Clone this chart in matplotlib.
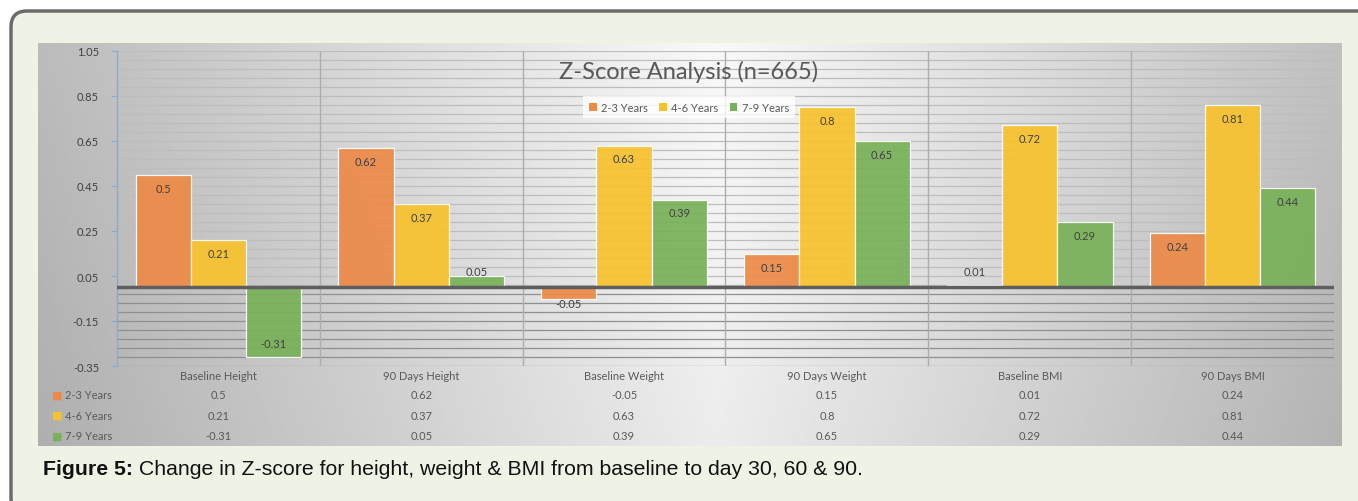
import numpy as np
import matplotlib
matplotlib.use("Agg")
import matplotlib.pyplot as plt
from matplotlib.patches import FancyBboxPatch, Patch
from matplotlib.ticker import FixedLocator
from matplotlib.transforms import blended_transform_factory

categories = ["Baseline Height", "90 Days Height", "Baseline Weight",
              "90 Days Weight", "Baseline BMI", "90 Days BMI"]
series_names = ["2-3 Years", "4-6 Years", "7-9 Years"]
vals_2_3 = [0.5, 0.62, -0.05, 0.15, 0.01, 0.24]
vals_4_6 = [0.21, 0.37, 0.63, 0.8, 0.72, 0.81]
vals_7_9 = [-0.31, 0.05, 0.39, 0.65, 0.29, 0.44]
ytick_vals = [1.05, 0.85, 0.65, 0.45, 0.25, 0.05, -0.15, -0.35]
title = "Z-Score Analysis (n=665)"
caption_bold = "Figure 5:"
caption_rest = " Change in Z-score for height, weight & BMI from baseline to day 30, 60 & 90."

colors = ["#ED8A47", "#F8C22C", "#78B159"]
series = [vals_2_3, vals_4_6, vals_7_9]

W, H = 1358, 502
fig = plt.figure(figsize=(W / 100, H / 100), dpi=100)
fig.patch.set_facecolor("white")

def fx(x):
    return x / W

def fy(y):
    return 1 - y / H

CF = "Lato"

# outer rounded box (pixel coordinates, no transform distortion)
box = FancyBboxPatch((11, H - 515), 1420, 515 - 12,
                     boxstyle="round,pad=0,rounding_size=16",
                     transform=None, facecolor="#EEF3E6",
                     edgecolor="#6B6B6B", linewidth=2.5, zorder=0)
fig.patches.append(box)

# gradient panel
gax = fig.add_axes([fx(38), fy(447), fx(1342) - fx(38), fy(44) - fy(447)], zorder=1)
xx = np.linspace(0, 1, 400)
yy = np.linspace(0, 1, 200)
X, Y = np.meshgrid(xx, yy)
G = 0.975 - 0.24 * np.abs(X - 0.52) / 0.52 - 0.05 * Y
gax.imshow(G, cmap="gray", vmin=0, vmax=1, aspect="auto", extent=[0, 1, 1, 0])
gax.axis("off")

# main axes
ax = fig.add_axes([fx(117), fy(367), fx(1334) - fx(117), fy(52) - fy(367)], zorder=2)
ax.set_facecolor("none")
ax.set_xlim(-0.5, 5.5)
ax.set_ylim(-0.35, 1.05)

x = np.arange(len(categories))
bw = 0.272
offsets = [-bw, 0, bw]

# gridlines
for gy in np.arange(-0.35, 1.0501, 0.04):
    col = "#BDBDBD" if gy > 0 else "#8F8F8F"
    ax.axhline(gy, color=col, lw=0.9, zorder=1)
for k in range(1, 6):
    ax.axvline(k - 0.5, color="#ADADAD", lw=1, zorder=1)

for s, vals, c, off in zip(series_names, series, colors, offsets):
    ax.bar(x + off, vals, width=bw, color=c, alpha=0.92,
           edgecolor=(1, 1, 1, 0.6), linewidth=0.9, zorder=3)
    for xi, v in zip(x, vals):
        if v >= 0:
            ly = max(v - 0.06, 0.07)
        else:
            ly = min(v + 0.058, -0.07)
        ax.text(xi + off, ly, f"{v:g}", ha="center", va="center",
                fontsize=8, color="#404040", family=CF, zorder=4)

ax.axhline(0, color="#5E5E5E", lw=2.5, zorder=5)

for sp in ["top", "right", "bottom"]:
    ax.spines[sp].set_visible(False)
ax.spines["left"].set_color("#7FAEDC")
ax.spines["left"].set_linewidth(1.0)
ax.yaxis.set_major_locator(FixedLocator(ytick_vals))
ax.set_yticklabels([f"{t:.2f}" for t in ytick_vals])
ax.tick_params(axis="y", which="major", length=4, color="#7FAEDC",
               labelsize=8, labelcolor="#404040", pad=9)
for lab in ax.get_yticklabels():
    lab.set_family(CF)

ax.set_xticks(x)
ax.set_xticklabels(categories)
ax.tick_params(axis="x", length=0, labelsize=8, labelcolor="#595959", pad=3)
for lab in ax.get_xticklabels():
    lab.set_family(CF)

# title
fig.text(fx(689), fy(72), title, ha="center", va="center", fontsize=17,
         color="#595959", family=CF, zorder=10)

# legend
handles = [Patch(facecolor=c, edgecolor="none") for c in colors]
leg = fig.legend(handles, series_names, loc="center", bbox_to_anchor=(fx(689), fy(108)),
                 ncol=3, frameon=True, handlelength=0.7, handleheight=0.7,
                 handletextpad=0.4, columnspacing=1.0, borderpad=0.5,
                 prop={"family": CF, "size": 8})
leg.get_frame().set_facecolor((1, 1, 1, 0.2))
leg.get_frame().set_edgecolor("none")
leg.get_frame().set_boxstyle("square", pad=0)
for t in leg.get_texts():
    t.set_color("#595959")
leg.set_zorder(10)

# data table
trans = blended_transform_factory(ax.transData, fig.transFigure)
row_y = [396, 416, 437]
for s, vals, c, ry in zip(series_names, series, colors, row_y):
    fig.text(fx(57), fy(ry), "\u25A0", ha="center", va="center", fontsize=8,
             color=c, family="DejaVu Sans", zorder=10)
    fig.text(fx(65), fy(ry), s, ha="left", va="center", fontsize=8,
             color="#595959", family=CF, zorder=10)
    for xi, v in zip(x, vals):
        ax.text(xi, fy(ry), f"{v:g}", transform=trans, ha="center", va="center",
                fontsize=8, color="#595959", family=CF, clip_on=False, zorder=10)

# caption
t1 = fig.text(fx(43), fy(470), caption_bold, ha="left", va="center",
              fontsize=15.3, fontweight="bold", color="#111111",
              family="Liberation Sans", zorder=10)
fig.canvas.draw()
bb = t1.get_window_extent()
fig.text(bb.x1 / W, fy(470), caption_rest, ha="left", va="center",
         fontsize=15.3, color="#111111", family="Liberation Sans", zorder=10)

fig.savefig("out.png", dpi=100, facecolor=fig.get_facecolor())
